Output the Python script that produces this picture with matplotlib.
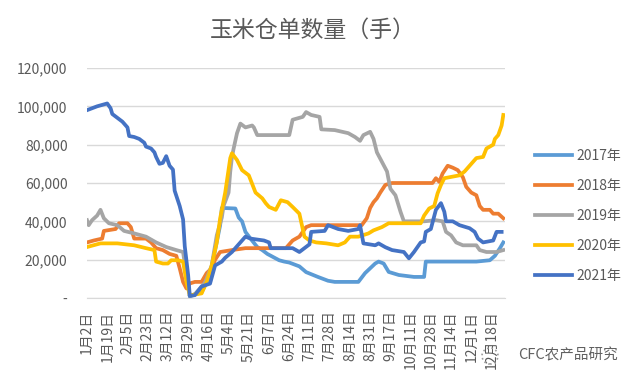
import matplotlib
matplotlib.use('Agg')
import matplotlib.pyplot as plt
from matplotlib.patches import Ellipse

plt.rcParams['font.family'] = ['Noto Sans CJK SC', 'DejaVu Sans']

# 交易日序号（0 = 1月2日），每 12 个交易日一个刻度
tick_days = list(range(0, 241, 12))
tick_labels = ['1月2日', '1月19日', '2月5日', '2月23日', '3月12日', '3月29日', '4月16日',
               '5月4日', '5月21日', '6月7日', '6月24日', '7月11日', '7月28日', '8月14日',
               '8月31日', '9月17日', '10月11日', '10月28日', '11月14日', '12月1日', '12月18日']

days_2017 = [61, 68, 73, 76, 79, 80, 88, 90, 92, 94, 97, 101, 104, 107, 114, 117, 120, 126,
             130, 137, 143, 147, 161, 165, 168, 171, 173, 176, 179, 185, 194, 200, 201, 231,
             239, 242, 245, 247]
vals_2017 = [1000, 3000, 12000, 25000, 38000, 47000, 46700, 42000, 40000, 34500, 31000, 26600,
             25000, 23000, 19700, 19000, 18500, 16500, 13500, 11000, 9000, 8400, 8400, 13000,
             15500, 18000, 19000, 18000, 13600, 12000, 11000, 11000, 19000, 19000, 19700, 22000,
             26000, 29000]

days_2018 = [0, 4, 9, 10, 17, 19, 24, 26, 28, 35, 38, 41, 45, 49, 53, 55, 57, 59, 61, 64, 68,
             71, 74, 76, 79, 86, 94, 118, 122, 126, 130, 133, 149, 163, 166, 168, 170, 172, 174,
             177, 181, 205, 207, 209, 211, 214, 217, 220, 223, 225, 228, 231, 233, 235, 239, 241,
             244, 247]
vals_2018 = [29000, 30000, 31000, 35000, 36000, 39000, 39000, 37000, 31000, 31000, 29000, 26000,
             25000, 23000, 22000, 15500, 8400, 5000, 7600, 8400, 8400, 13000, 15500, 20000, 24000,
             25000, 26000, 26000, 30000, 32000, 37000, 38000, 38000, 38000, 41600, 47000, 50000,
             52000, 55000, 59000, 60000, 60000, 62500, 60600, 65000, 69000, 68000, 66700, 63000,
             58000, 55000, 53600, 48000, 46000, 46000, 44000, 44000, 41600]

days_2019 = [0, 1, 3, 6, 8, 10, 13, 18, 22, 28, 35, 41, 47, 53, 57, 59, 61, 64, 70, 74, 77, 80,
             81, 84, 85, 86, 87, 89, 91, 94, 98, 99, 101, 120, 122, 128, 130, 133, 138, 139, 147,
             155, 159, 162, 164, 168, 170, 172, 175, 178, 180, 183, 186, 188, 200, 207, 211, 213,
             216, 219, 223, 231, 233, 237, 243, 247]
vals_2019 = [40600, 38000, 40600, 43000, 46000, 41600, 39000, 38000, 35000, 33700, 32000, 29000,
             26600, 25000, 24000, 12000, 1000, 2000, 8000, 17000, 32700, 42000, 48000, 55000,
             66000, 73600, 78000, 86000, 91000, 89000, 90000, 89000, 85000, 85000, 93000, 94500,
             97000, 95500, 94500, 88000, 87600, 86000, 84000, 82000, 85000, 86700, 83000, 76000,
             71000, 66000, 57000, 53600, 45000, 40000, 40000, 40600, 40000, 34500, 32700, 29000,
             27500, 27500, 25000, 24000, 24000, 25000]

days_2020 = [0, 8, 18, 28, 35, 40, 41, 45, 48, 50, 54, 57, 59, 61, 68, 71, 74, 77, 79, 82, 85,
             86, 89, 92, 96, 100, 104, 106, 108, 112, 115, 119, 122, 126, 127, 129, 132, 136, 142,
             149, 153, 156, 161, 167, 170, 175, 179, 194, 198, 200, 203, 206, 208, 210, 212, 215,
             221, 224, 228, 231, 235, 237, 239, 241, 242, 244, 246, 247]
vals_2020 = [26600, 28500, 28500, 27500, 26000, 25000, 19000, 18000, 18000, 19700, 19700, 19000,
             8400, 1400, 2400, 8400, 17000, 29000, 41600, 55000, 73000, 75500, 72000, 66700, 64000,
             55000, 52000, 49500, 47500, 46000, 51000, 50000, 47500, 44000, 40000, 32000, 30000,
             29000, 28500, 27500, 29000, 32000, 32000, 33700, 35300, 37000, 39000, 39000, 39000,
             43000, 46700, 48000, 54600, 59000, 62500, 63000, 64000, 66000, 70000, 73000, 73600,
             78000, 79000, 80000, 83000, 85000, 90000, 95500]

days_2021 = [0, 3, 6, 10, 12, 14, 15, 18, 21, 24, 25, 28, 31, 34, 35, 38, 40, 41, 43, 45, 47,
             49, 51, 52, 55, 57, 58, 60, 61, 64, 68, 73, 76, 80, 82, 86, 91, 94, 97, 105, 108,
             109, 122, 126, 132, 133, 141, 143, 149, 155, 161, 162, 164, 171, 173, 177, 181, 188,
             191, 194, 198, 200, 201, 204, 207, 210, 212, 213, 217, 221, 227, 230, 232, 235, 241,
             243, 246]
vals_2021 = [98000, 99000, 100000, 101000, 101500, 99000, 96000, 94000, 92000, 89000, 84500,
             84000, 83000, 81000, 79000, 78000, 76000, 73600, 70000, 70500, 74000, 69000, 67000,
             56000, 48000, 41000, 27000, 12000, 1000, 1500, 6000, 7500, 17000, 19000, 21000,
             24000, 29000, 32000, 31000, 30000, 29000, 26000, 26000, 24000, 28000, 34500, 35000,
             38000, 36000, 35000, 36000, 38000, 28500, 27500, 28500, 26500, 25000, 24000, 20700,
             24000, 29000, 29500, 34500, 36000, 46000, 49500, 45000, 40000, 40000, 38000, 36400,
             34500, 31000, 29000, 30000, 34500, 34500]

series = [
    ('2017年', days_2017, vals_2017, '#5B9BD5'),
    ('2018年', days_2018, vals_2018, '#ED7D31'),
    ('2019年', days_2019, vals_2019, '#A5A5A5'),
    ('2020年', days_2020, vals_2020, '#FFC000'),
    ('2021年', days_2021, vals_2021, '#4472C4'),
]

text_color = '#595959'
grid_color = '#D9D9D9'

fig = plt.figure(figsize=(6.4, 3.84), dpi=100)
ax = fig.add_axes([87 / 640, 1 - 298 / 384, 418 / 640, 230 / 384])

for name, d, v, c in series:
    ax.plot(d, v, color=c, lw=2.7, label=name, solid_joinstyle='round')

ax.set_xlim(0, 248)
ax.set_ylim(0, 120000)
ax.set_yticks(range(0, 120001, 20000))
ax.set_yticklabels(['-' if y == 0 else f'{y:,}' for y in range(0, 120001, 20000)])
ax.set_xticks(tick_days)
ax.set_xticklabels(tick_labels, rotation=90, va='top', ha='center')

ax.grid(axis='y', color=grid_color, lw=1)
ax.set_axisbelow(True)
for s in ['top', 'right', 'left']:
    ax.spines[s].set_visible(False)
ax.spines['bottom'].set_color(grid_color)
ax.tick_params(length=0, colors=text_color)
ax.tick_params(axis='y', labelsize=10, pad=14)
ax.tick_params(axis='x', labelsize=10, pad=9)

fig.text(313 / 640, 1 - 30 / 384, '玉米仓单数量（手）', ha='center', va='center',
         fontsize=16.5, color=text_color)

fig.legend(loc='center left', bbox_to_anchor=(522 / 640, 1 - 216 / 384), frameon=False,
           fontsize=10, handlelength=2.7, handletextpad=0.3, labelspacing=1.15,
           labelcolor=text_color)

# 水印
fig.patches.append(Ellipse((490 / 640, 1 - 356 / 384), 16 / 640, 16 / 384,
                           transform=fig.transFigure, fill=False, ec='#9A9A9A',
                           ls=':', lw=1.2))
fig.text(518 / 640, 1 - 355 / 384, 'CFC农产品研究', ha='left', va='center',
         fontsize=10.5, color='#606060')

plt.savefig('out.png', dpi=100)
